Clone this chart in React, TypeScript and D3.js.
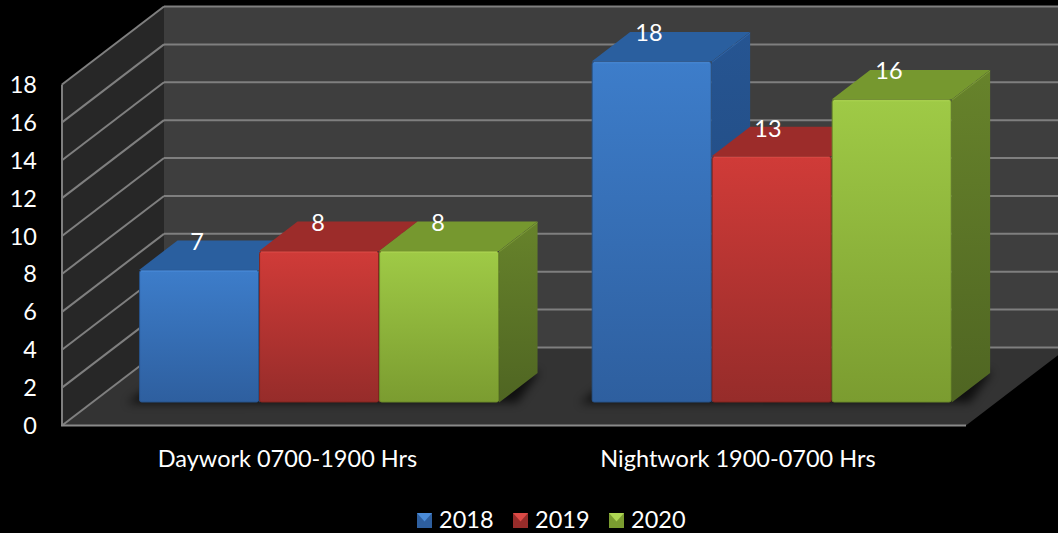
import React from "react";
import * as d3 from "d3";

const categories = ["Daywork 0700-1900 Hrs", "Nightwork 1900-0700 Hrs"];
const seriesNames = ["2018", "2019", "2020"];
const values2018 = [7, 18];
const values2019 = [8, 13];
const values2020 = [8, 16];
const allValues = [values2018, values2019, values2020];
const yTicks = [0, 2, 4, 6, 8, 10, 12, 14, 16, 18];
const palette = [
  { light: "#3d7dca", dark: "#2e5f9f", top: "#2a5f9f", side0: "#265592", side1: "#1f4679", edge: "#4a8bd8", rim: "#28548c" },
  { light: "#d03b38", dark: "#962c2a", top: "#9c2c2a", side0: "#8a2624", side1: "#7a2220", edge: "#dc4a46", rim: "#84261f" },
  { light: "#9fca46", dark: "#7b9c30", top: "#76982f", side0: "#67832b", side1: "#4f6522", edge: "#aed653", rim: "#6c8a2a" },
];

const W = 1058, H = 533;
const DX = 102, DY = -78;
const font = "Lato, Carlito, 'Open Sans', sans-serif";
const y = d3.scaleLinear().domain([0, 18]).range([425.5, 84.5]);
const x = d3.scaleLinear().domain([0, 1]).range([62, 966]);
const band = d3.scaleBand().domain(categories).range([0, 1]);
const P = (fx: number, v: number, d: number): [number, number] => [x(fx) + DX * d, y(v) + DY * d];
const pts = (a: [number, number][]) => a.map((p) => p.join(",")).join(" ");

const BAR_W = 120 / 904; // fraction of the category axis
const D0 = 0.295, D1 = 0.672;

function Bar({ c, s }: { c: number; s: number }) {
  const v = allValues[s][c];
  const pal = palette[s];
  const x0 = band(categories[c])! + 47 / 904 + (c * 0.6) / 904 + s * BAR_W;
  const x1 = x0 + BAR_W;
  const fbl = P(x0, 0, D0), ftl = P(x0, v, D0), ftr = P(x1, v, D0), fbr = P(x1, 0, D0);
  const btl = P(x0, v, D1), btr = P(x1, v, D1), bbr = P(x1, 0, D1);
  return (
    <g>
      <polygon points={pts([ftl, btl, btr, ftr])} fill={pal.top} />
      <polygon points={pts([ftr, btr, bbr, fbr])} fill={`url(#side${s})`} />
      <rect x={ftl[0] + 0.5} y={ftl[1] + 0.5} width={ftr[0] - ftl[0] - 1} height={fbl[1] - ftl[1] - 1} rx={2} fill={`url(#front${s})`} stroke={pal.rim} strokeWidth={1} />
      <line x1={ftl[0] + 2} y1={ftl[1] + 1} x2={ftr[0] - 2} y2={ftr[1] + 1} stroke={pal.edge} strokeWidth={1.5} opacity={0.8} />
      <line x1={ftr[0]} y1={ftr[1] + 1} x2={btr[0]} y2={btr[1] + 1} stroke={pal.edge} strokeWidth={1} opacity={0.3} />
    </g>
  );
}

function Shadow({ c }: { c: number }) {
  const x0 = band(categories[c])! + 47 / 904 + (c * 0.6) / 904;
  const x1 = x0 + BAR_W * 3;
  return (
    <polygon
      points={pts([P(x0 - 0.012, 0, D0 - 0.01), P(x0 - 0.012, 0, D1), P(x1, 0, D1 + 0.02), P(x1 + 0.02, 0, D0)])}
      fill="#000"
      opacity={0.7}
      filter="url(#blur)"
    />
  );
}

export default function App() {
  const labelOffsets = [
    [[197, 250], [318, 231], [438, 231]],
    [[649, 41], [768, 137], [889, 79]],
  ];
  const legendX = [417, 513, 609];
  return (
    <svg width={W} height={H} viewBox={`0 0 ${W} ${H}`} style={{ position: "fixed", left: 0, top: 0, background: "#000", display: "block" }}>
      <defs>
        <filter id="blur" x="-20%" y="-40%" width="140%" height="180%">
          <feGaussianBlur stdDeviation="5" />
        </filter>
        <clipPath id="floorClip">
          <polygon points={pts([P(0, 0, 0), P(0, 0, 1), P(1, 0, 1), P(1, 0, 0)])} />
        </clipPath>
        {palette.map((p, i) => (
          <React.Fragment key={i}>
            <linearGradient id={`front${i}`} x1="0" y1="0" x2="0" y2="1">
              <stop offset="0" stopColor={p.light} />
              <stop offset="1" stopColor={p.dark} />
            </linearGradient>
            <linearGradient id={`side${i}`} x1="0" y1="0" x2="0" y2="1">
              <stop offset="0" stopColor={p.side0} />
              <stop offset="1" stopColor={p.side1} />
            </linearGradient>
          </React.Fragment>
        ))}
      </defs>

      {/* back wall, left wall, floor */}
      <polygon points={pts([P(0, 18, 1), P(1, 18, 1), P(1, 0, 1), P(0, 0, 1)])} fill="#3e3e3e" />
      <polygon points={pts([P(0, 18, 0), P(0, 18, 1), P(0, 0, 1), P(0, 0, 0)])} fill="#272727" />
      <polygon points={pts([P(0, 0, 0), P(0, 0, 1), P(1, 0, 1), P(1, 0, 0)])} fill="#333333" />

      {yTicks.map((t) => (
        <g key={t} stroke="#7f7f7f" strokeWidth={2} fill="none">
          <line x1={P(0, t, 0)[0]} y1={P(0, t, 0)[1]} x2={P(0, t, 1)[0]} y2={P(0, t, 1)[1]} />
          <line x1={P(0, t, 1)[0]} y1={P(0, t, 1)[1]} x2={W} y2={P(0, t, 1)[1]} />
        </g>
      ))}
      <line x1={62} y1={y(18)} x2={62} y2={y(0)} stroke="#7f7f7f" strokeWidth={2} />
      <line x1={61} y1={y(0)} x2={x(1)} y2={y(0)} stroke="#8a8a8a" strokeWidth={2} />

      <g clipPath="url(#floorClip)">
        {categories.map((_, c) => <Shadow key={c} c={c} />)}
      </g>

      {categories.map((_, c) => seriesNames.map((_, s) => <Bar key={`${c}-${s}`} c={c} s={s} />))}

      <g fontFamily={font} fill="#fff">
        {yTicks.map((t) => (
          <text key={t} x={37} y={y(t) + 8.5} textAnchor="end" fontSize={23.5}>{t}</text>
        ))}
        {categories.map((c, i) => (
          <text key={c} x={i === 0 ? 287.5 : 738} y={467} textAnchor="middle" fontSize={23.5}>{c}</text>
        ))}
        {categories.map((_, c) => allValues.map((vals, s) => (
          <text key={`${c}-${s}`} x={labelOffsets[c][s][0]} y={labelOffsets[c][s][1]} textAnchor="middle" fontSize={23.5}>{vals[c]}</text>
        )))}
        {seriesNames.map((n, i) => (
          <text key={n} x={legendX[i] + 22} y={528} fontSize={23.5}>{n}</text>
        ))}
      </g>

      {seriesNames.map((n, i) => {
        const lx = legendX[i], ly = 513, sz = 15, p = palette[i];
        const tl: [number, number] = [lx, ly], tr: [number, number] = [lx + sz, ly];
        const c: [number, number] = [lx + sz / 2, ly + sz / 2 + 1];
        return (
          <g key={n}>
            <rect x={lx} y={ly} width={sz} height={sz} fill={p.dark} />
            <polygon points={pts([tl, tr, c])} fill={p.edge} />
          </g>
        );
      })}
    </svg>
  );
}
